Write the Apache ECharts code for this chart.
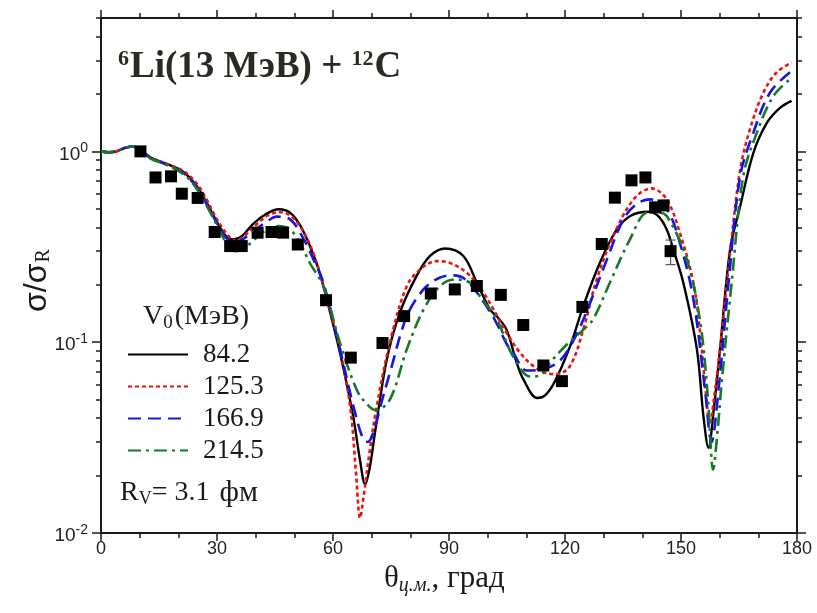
<!DOCTYPE html>
<html>
<head>
<meta charset="utf-8">
<script src="https://cdn.jsdelivr.net/npm/echarts@6/dist/echarts.min.js"></script>
<style>
html,body{margin:0;padding:0;background:#fff;}
#main{width:817px;height:613px;}
</style>
</head>
<body>
<div id="main"></div>
<script>
// ---- data ----
const seriesNames = ['84.2', '125.3', '166.9', '214.5'];
const xTicks = [0, 30, 60, 90, 120, 150, 180];
const yMajorTicks = [0.01, 0.1, 1];
const yMinorTicks = [0.02,0.03,0.04,0.05,0.06,0.07,0.08,0.09,0.2,0.3,0.4,0.5,0.6,0.7,0.8,0.9,2,3,4,5];

const expData = [
  [10.2,1.0],[14.1,0.73],[18.1,0.74],[20.9,0.60],[25.0,0.57],[29.4,0.378],[33.4,0.319],[36.4,0.319],
  [40.5,0.375],[44.1,0.378],[47.1,0.375],[50.9,0.325],[58.2,0.166],[64.6,0.083],[72.8,0.099],
  [78.4,0.137],[85.3,0.18],[91.5,0.189],[97.2,0.197],[103.4,0.177],[109.2,0.123],[114.4,0.0755],
  [119.2,0.0625],[124.5,0.153],[129.5,0.327],[132.9,0.572],[137.2,0.705],[140.8,0.73],[143.3,0.509],
  [145.5,0.521],[147.3,0.30]
];
const errBars = [[147.3, 0.255, 0.343]];

const curve84 = [
  [0,1.0],[2,0.99],[4,1.0],[6,1.04],[8,1.06],[10,1.03],[12.7,0.93],[17,0.86],[21.3,0.78],[24.7,0.66],
  [27.3,0.54],[29.9,0.43],[32.3,0.36],[34.2,0.345],[36.5,0.36],[39,0.41],[42,0.46],[46,0.497],[48.9,0.477],
  [51.5,0.41],[54,0.32],[56.3,0.24],[58.4,0.168],[61.8,0.088],[65.2,0.041],[67,0.024],[68.3,0.018],
  [69.5,0.022],[70.9,0.034],[73.9,0.081],[77.3,0.143],[81.6,0.222],[85.1,0.283],[89,0.31],[93.7,0.283],
  [97.2,0.205],[100.6,0.148],[102.3,0.137],[104.9,0.116],[107.5,0.078],[109.2,0.064],[112.8,0.051],[115,0.053],
  [117.5,0.063],[121.3,0.095],[124.7,0.154],[129,0.26],[133.4,0.39],[137,0.46],[141.5,0.483],[144,0.46],
  [146.3,0.39],[148,0.306],[150.6,0.205],[154.1,0.092],[155.8,0.041],[157.1,0.028],[158.5,0.045],
  [160.1,0.092],[162.7,0.306],[165.3,0.516],[168.7,0.98],[172.2,1.41],[175.6,1.69],[178.6,1.84]
];
const curve125 = [
  [0,1.0],[2,0.99],[4,1.0],[6,1.04],[8,1.06],[10,1.03],[12.7,0.93],[17,0.86],[21.3,0.79],[24.7,0.68],
  [27.3,0.56],[30,0.44],[32.5,0.37],[34.7,0.34],[37,0.36],[40,0.41],[43,0.46],[46.3,0.48],[49,0.46],
  [52,0.39],[55,0.29],[58.4,0.17],[61.8,0.092],[64.5,0.045],[66,0.02],[67,0.012],[68,0.016],[69.5,0.027],
  [71.3,0.046],[74.7,0.099],[79.1,0.197],[83,0.245],[86.8,0.266],[90.3,0.26],[94.6,0.231],[98.9,0.182],
  [104.9,0.112],[108.4,0.088],[111.8,0.075],[115,0.069],[117.8,0.068],[121.3,0.075],[124.7,0.116],
  [128.2,0.213],[132.5,0.36],[137.7,0.56],[142.4,0.64],[146.3,0.56],[149.7,0.375],[153.2,0.205],[155,0.11],
  [156.2,0.061],[157.5,0.037],[158.5,0.05],[160.1,0.092],[162.7,0.294],[165.3,0.80],[167.8,1.30],
  [171.3,2.03],[174.7,2.59],[178.6,2.92]
];
const curve167 = [
  [0,1.0],[2,0.99],[4,1.0],[6,1.04],[8,1.06],[10,1.03],[12.7,0.93],[17,0.85],[21.3,0.77],[24.7,0.65],
  [27.3,0.53],[30,0.42],[32.5,0.35],[34.5,0.33],[37,0.35],[40,0.39],[43,0.43],[45.4,0.455],[48.9,0.44],
  [52,0.36],[55,0.27],[57.5,0.205],[61.8,0.092],[65.3,0.046],[67.8,0.031],[69,0.03],[70.4,0.0335],
  [72.5,0.048],[74.7,0.069],[79.1,0.137],[83.4,0.189],[87,0.215],[90.3,0.224],[94,0.215],[98.9,0.163],
  [102.3,0.126],[104.9,0.098],[106.6,0.088],[110.1,0.071],[114,0.072],[118.7,0.08],[123,0.11],[126.5,0.161],
  [130.8,0.27],[135.1,0.44],[138.5,0.53],[142,0.56],[146.3,0.497],[149.7,0.332],[153.2,0.168],[156.2,0.0565],
  [157.9,0.03],[159.7,0.0565],[162.3,0.205],[165.3,0.74],[168.7,1.25],[173,2.03],[178.6,2.64]
];
const curve215 = [
  [0,1.0],[2,0.99],[4,1.0],[6,1.04],[8,1.06],[10,1.03],[12.7,0.92],[17,0.85],[21.3,0.76],[24.7,0.64],
  [27.3,0.52],[30,0.41],[32.5,0.33],[34.7,0.30],[37,0.31],[40,0.35],[43,0.39],[45.9,0.406],[48.9,0.39],
  [51.5,0.33],[54,0.26],[57.5,0.197],[61.8,0.099],[66.1,0.0565],[68.5,0.048],[71,0.044],[74.7,0.05],
  [79.1,0.092],[83.4,0.148],[87.7,0.197],[91.5,0.213],[95.4,0.205],[98,0.174],[102.3,0.132],[106.6,0.084],
  [111,0.066],[113.5,0.067],[116.1,0.078],[120.4,0.097],[124.7,0.116],[127.3,0.132],[131.6,0.205],
  [136.8,0.346],[141.1,0.477],[143.5,0.48],[146.3,0.458],[151.5,0.272],[155,0.126],[157,0.05],[158.3,0.0215],
  [159.5,0.035],[160.5,0.061],[163.1,0.205],[166.1,0.74],[169.6,1.25],[173.9,1.95],[178.6,2.43]
];

// ---- chart ----
const chart = echarts.init(document.getElementById('main'), null, {renderer: 'canvas'});
const AX = '#1a1a1a';
const serif = '"Liberation Serif", "Times New Roman", serif';
const sans = '"Liberation Sans", Arial, sans-serif';

function supLabel(v) {
  const e = Math.round(Math.log10(v));
  return '{b|10}{s|' + e + '}';
}

function xAxisDef(pos, showLabels) {
  return {
    type: 'value', position: pos, min: 0, max: 180, interval: 30,
    axisLine: {show: true, onZero: false, lineStyle: {color: AX, width: 2}},
    axisTick: {show: true, length: 8, lineStyle: {color: AX, width: 1.5}},
    minorTick: {show: true, splitNumber: 3, length: 5, lineStyle: {color: AX, width: 1.5}},
    splitLine: {show: false}, minorSplitLine: {show: false},
    axisLabel: {show: showLabels, customValues: xTicks, margin: 7, color: '#222', fontSize: 18, fontFamily: sans}
  };
}
function yAxisDef(pos, major, showLine, showLabels) {
  return {
    type: 'log', logBase: 10, position: pos, min: 0.01, max: 5,
    axisLine: {show: showLine, onZero: false, lineStyle: {color: AX, width: 2}},
    axisTick: {show: true, customValues: major ? yMajorTicks : yMinorTicks, length: major ? 9 : 5,
               lineStyle: {color: AX, width: 1.5}},
    splitLine: {show: false},
    axisLabel: {show: showLabels, customValues: yMajorTicks, margin: 13, formatter: supLabel,
      rich: {
        b: {fontSize: 19, fontFamily: sans, color: '#222', padding: [6, 0, 0, 0]},
        s: {fontSize: 14, fontFamily: sans, color: '#222', padding: [0, 0, 6, 0]}
      }}
  };
}

const lineCommon = {type: 'line', symbol: 'circle', showSymbol: false, smooth: 0.35, z: 3};

const option = {
  animation: false,
  backgroundColor: '#fff',
  grid: {left: 101, right: 20, top: 18, bottom: 80, containLabel: false},
  xAxis: [xAxisDef('bottom', true), xAxisDef('top', false)],
  yAxis: [
    yAxisDef('left', true, true, true),
    yAxisDef('left', false, false, false),
    yAxisDef('right', true, true, false),
    yAxisDef('right', false, false, false)
  ],
  legend: {
    orient: 'vertical', left: 122, top: 336, itemWidth: 60, itemHeight: 16, itemGap: 5,
    data: seriesNames, selectedMode: false,
    itemStyle: {opacity: 0},
    textStyle: {fontFamily: serif, fontSize: 27, color: '#1a1a1a', lineHeight: 26, padding: [0, 0, 0, 10]}
  },
  series: [
    Object.assign({}, lineCommon, {name: seriesNames[0], data: curve84,
      lineStyle: {color: '#000000', width: 2.4, type: 'solid'}, itemStyle: {color: '#000000'}}),
    Object.assign({}, lineCommon, {name: seriesNames[1], data: curve125,
      lineStyle: {color: '#ee1111', width: 2.6, type: [4, 3]}, itemStyle: {color: '#ee1111'}}),
    Object.assign({}, lineCommon, {name: seriesNames[2], data: curve167,
      lineStyle: {color: '#1515e6', width: 2.6, type: [13, 7]}, itemStyle: {color: '#1515e6'}}),
    Object.assign({}, lineCommon, {name: seriesNames[3], data: curve215,
      lineStyle: {color: '#147a2a', width: 2.6, type: [13, 5, 3, 5]}, itemStyle: {color: '#147a2a'}}),
    {
      type: 'custom', name: 'err', data: errBars, z: 4,
      renderItem: function (params, api) {
        const x = api.value(0);
        const p1 = api.coord([x, api.value(1)]);
        const p2 = api.coord([x, api.value(2)]);
        const st = {stroke: '#555', lineWidth: 1.2};
        return {type: 'group', children: [
          {type: 'line', shape: {x1: p1[0], y1: p1[1], x2: p2[0], y2: p2[1]}, style: st},
          {type: 'line', shape: {x1: p1[0] - 5, y1: p1[1], x2: p1[0] + 5, y2: p1[1]}, style: st},
          {type: 'line', shape: {x1: p2[0] - 5, y1: p2[1], x2: p2[0] + 5, y2: p2[1]}, style: st}
        ]};
      }
    },
    {
      type: 'scatter', name: 'exp', data: expData, symbol: 'rect', symbolSize: 12, z: 5,
      itemStyle: {color: '#000', opacity: 1}
    }
  ],
  graphic: [
    {
      type: 'text', left: 118, top: 48, z: 10,
      style: {
        text: '{sup|6}{b|Li(13 МэВ) + }{sup|12}{b|C}',
        rich: {
          b: {fontFamily: serif, fontWeight: 'bold', fontSize: 37, fill: '#2a2a22'},
          sup: {fontFamily: serif, fontWeight: 'bold', fontSize: 22, fill: '#2a2a22', padding: [0, 1, 16, 0]}
        }
      }
    },
    {
      type: 'text', left: 143, top: 303, z: 10,
      style: {
        text: '{a|V}{s|0}{a|(МэВ)}',
        rich: {
          a: {fontFamily: serif, fontSize: 28, fill: '#1a1a1a'},
          s: {fontFamily: serif, fontSize: 19, fill: '#1a1a1a', padding: [12, 2, 0, 0]}
        }
      }
    },
    {
      type: 'text', left: 120, top: 478, z: 10,
      style: {
        text: '{a|R}{s|V}{a|= 3.1 }{b|фм}',
        rich: {
          a: {fontFamily: serif, fontSize: 28, fill: '#1a1a1a'},
          b: {fontFamily: serif, fontSize: 30, fill: '#1a1a1a', padding: [0, 0, 0, 3]},
          s: {fontFamily: serif, fontSize: 18, fill: '#1a1a1a', padding: [12, 0, 0, 0]}
        }
      }
    },
    {
      type: 'text', x: 20, y: 312, rotation: Math.PI / 2, z: 10,
      style: {
        text: '{a|σ/σ}{s|R}',
        rich: {
          a: {fontFamily: sans, fontSize: 32, fill: '#1a1a1a'},
          s: {fontFamily: serif, fontSize: 20, fill: '#1a1a1a', padding: [14, 0, 0, 1]}
        }
      }
    },
    {
      type: 'text', left: 384, top: 563, z: 10,
      style: {
        text: '{a|θ}{s|ц.м.}{a|, град}',
        rich: {
          a: {fontFamily: serif, fontSize: 31, fill: '#1a1a1a'},
          s: {fontFamily: serif, fontStyle: 'italic', fontSize: 20, fill: '#1a1a1a', padding: [15, 0, 0, 0]}
        }
      }
    }
  ]
};
chart.setOption(option);
</script>
</body>
</html>
